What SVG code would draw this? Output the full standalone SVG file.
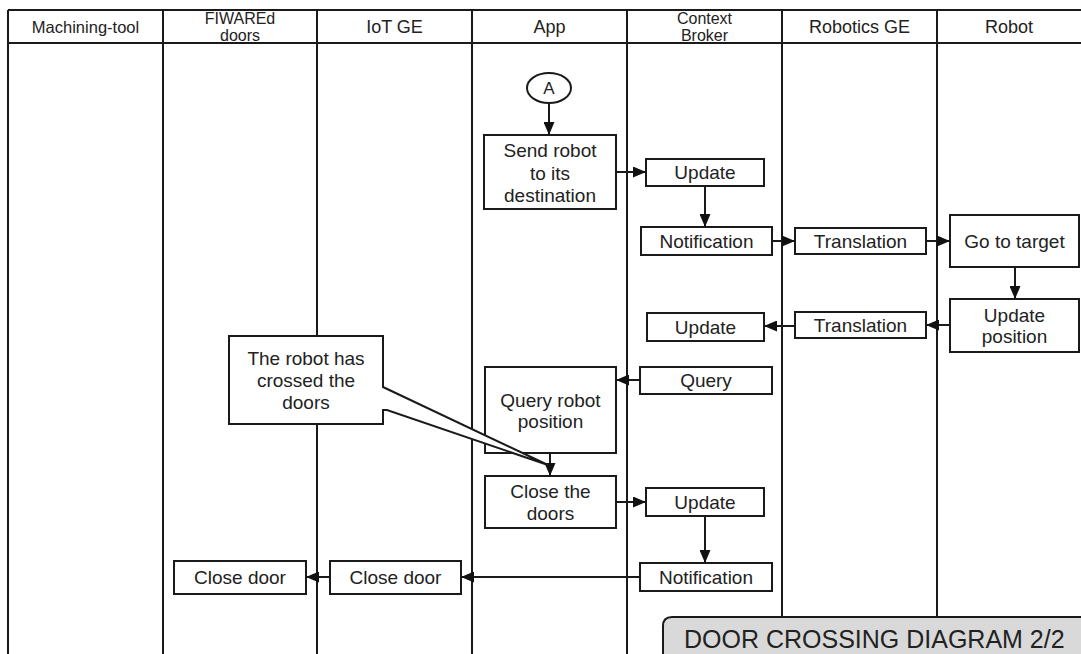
<svg xmlns="http://www.w3.org/2000/svg" width="1081" height="654" viewBox="0 0 1081 654">
  <style>
    .lane { stroke: #1a1a1a; stroke-width: 2; fill: none; }
    .box { fill: #ffffff; stroke: #1a1a1a; stroke-width: 2; }
    .hdr { font-family: "Liberation Sans", Arial, sans-serif; font-size: 18px; fill: #222; text-anchor: middle; }
    .hdr2 { font-family: "Liberation Sans", Arial, sans-serif; font-size: 16px; fill: #222; text-anchor: middle; }
    .lbl { font-family: "Liberation Sans", Arial, sans-serif; font-size: 19px; fill: #222; text-anchor: middle; }
    .edge { stroke: #1a1a1a; stroke-width: 2; fill: none; marker-end: url(#arrow); }
    .title { font-family: "Liberation Sans", Arial, sans-serif; font-size: 25px; fill: #222; }
  </style>
  <defs>
    <marker id="arrow" markerUnits="userSpaceOnUse" markerWidth="13" markerHeight="11" refX="13" refY="5.5" orient="auto">
      <path d="M0,0 L13,5.5 L0,11 z" fill="#111"/>
    </marker>
  </defs>

  <rect width="1081" height="654" fill="#ffffff"/>

  <!-- swimlane frame -->
  <g id="lanes">
    <line class="lane" x1="8" y1="10" x2="1081" y2="10"/>
    <line class="lane" x1="8" y1="43" x2="1081" y2="43"/>
    <line class="lane" x1="8" y1="10" x2="8" y2="654"/>
    <line class="lane" x1="163" y1="10" x2="163" y2="654"/>
    <line class="lane" x1="317" y1="10" x2="317" y2="654"/>
    <line class="lane" x1="472" y1="10" x2="472" y2="654"/>
    <line class="lane" x1="627" y1="10" x2="627" y2="654"/>
    <line class="lane" x1="782" y1="10" x2="782" y2="654"/>
    <line class="lane" x1="937" y1="10" x2="937" y2="654"/>
    <text class="hdr" x="85.5" y="33" style="font-size:16.5px">Machining-tool</text>
    <text class="hdr2" x="240" y="24">FIWAREd</text>
    <text class="hdr2" x="240" y="40.5">doors</text>
    <text class="hdr" x="394.5" y="33">IoT GE</text>
    <text class="hdr" x="549.5" y="33">App</text>
    <text class="hdr2" x="704.5" y="24">Context</text>
    <text class="hdr2" x="704.5" y="40.5">Broker</text>
    <text class="hdr" x="859.5" y="33">Robotics GE</text>
    <text class="hdr" x="1009" y="33">Robot</text>
  </g>

  <!-- connectors -->
  <g id="connectors">
    <line class="edge" x1="549" y1="103" x2="549" y2="135"/>
    <line class="edge" x1="616" y1="172" x2="646" y2="172"/>
    <line class="edge" x1="705" y1="186" x2="705" y2="227"/>
    <line class="edge" x1="772" y1="241" x2="795" y2="241"/>
    <line class="edge" x1="926" y1="241" x2="950" y2="241"/>
    <line class="edge" x1="1015" y1="267" x2="1015" y2="299"/>
    <line class="edge" x1="950" y1="325" x2="926" y2="325"/>
    <line class="edge" x1="795" y1="326" x2="764" y2="326"/>
    <line class="edge" x1="640" y1="380" x2="616" y2="380"/>
    <line class="edge" x1="550" y1="453" x2="550" y2="476"/>
    <line class="edge" x1="616" y1="502" x2="646" y2="502"/>
    <line class="edge" x1="705" y1="516" x2="705" y2="563"/>
    <line class="edge" x1="640" y1="577" x2="461" y2="577"/>
    <line class="edge" x1="330" y1="577" x2="306" y2="577"/>
  </g>

  <g id="start-a">
    <ellipse class="box" cx="549" cy="88" rx="22" ry="15"/>
    <text class="lbl" x="549" y="94" style="font-size:17px">A</text>
  </g>

  <g id="send-robot">
    <rect class="box" x="484" y="135" width="132" height="74"/>
    <text class="lbl" x="550" y="157">Send robot</text>
    <text class="lbl" x="550" y="180">to its</text>
    <text class="lbl" x="550" y="202">destination</text>
  </g>

  <g id="cb-update-1">
    <rect class="box" x="646" y="159" width="118" height="27"/>
    <text class="lbl" x="705" y="179">Update</text>
  </g>

  <g id="cb-notification-1">
    <rect class="box" x="641" y="227" width="131" height="28"/>
    <text class="lbl" x="706.5" y="247.5">Notification</text>
  </g>

  <g id="rge-translation-1">
    <rect class="box" x="795" y="228" width="131" height="26"/>
    <text class="lbl" x="860.5" y="247.5">Translation</text>
  </g>

  <g id="robot-go">
    <rect class="box" x="950" y="215" width="129" height="52"/>
    <text class="lbl" x="1014.5" y="247.5">Go to target</text>
  </g>

  <g id="robot-update-position">
    <rect class="box" x="950" y="299" width="129" height="53"/>
    <text class="lbl" x="1014.5" y="322">Update</text>
    <text class="lbl" x="1014.5" y="343">position</text>
  </g>

  <g id="rge-translation-2">
    <rect class="box" x="795" y="312" width="131" height="26"/>
    <text class="lbl" x="860.5" y="331.5">Translation</text>
  </g>

  <g id="cb-update-2">
    <rect class="box" x="647" y="313" width="117" height="28"/>
    <text class="lbl" x="705.5" y="333.5">Update</text>
  </g>

  <g id="cb-query">
    <rect class="box" x="640" y="367" width="132" height="27"/>
    <text class="lbl" x="706" y="387">Query</text>
  </g>

  <g id="query-robot-position">
    <rect class="box" x="485" y="367" width="131" height="86"/>
    <text class="lbl" x="550.5" y="407">Query robot</text>
    <text class="lbl" x="550.5" y="428">position</text>
  </g>

  <g id="close-the-doors">
    <rect class="box" x="485" y="476" width="131" height="52"/>
    <text class="lbl" x="550.5" y="498">Close the</text>
    <text class="lbl" x="550.5" y="520">doors</text>
  </g>

  <g id="cb-update-3">
    <rect class="box" x="646" y="488" width="118" height="28"/>
    <text class="lbl" x="705" y="508.5">Update</text>
  </g>

  <g id="cb-notification-2">
    <rect class="box" x="640" y="563" width="132" height="28"/>
    <text class="lbl" x="706" y="583.5">Notification</text>
  </g>

  <g id="iot-close-door">
    <rect class="box" x="330" y="561" width="131" height="33"/>
    <text class="lbl" x="395.5" y="584">Close door</text>
  </g>

  <g id="doors-close-door">
    <rect class="box" x="174" y="561" width="132" height="33"/>
    <text class="lbl" x="240" y="584">Close door</text>
  </g>

  <!-- annotation callout pointing at the query/close transition -->
  <g id="callout">
    <path class="box" d="M229,336 H383 V387 L548,465 L387,410 H383 V424 H229 Z"/>
    <text class="lbl" x="306" y="364.5">The robot has</text>
    <text class="lbl" x="306" y="386.5">crossed the</text>
    <text class="lbl" x="306" y="408.5">doors</text>
  </g>

  <g id="title">
    <path d="M663,656 V626 Q663,617 672,617 H1083 V656 Z" fill="#d9d9d9" stroke="#1a1a1a" stroke-width="2"/>
    <text class="title" x="684" y="648">DOOR CROSSING DIAGRAM 2/2</text>
  </g>
</svg>
